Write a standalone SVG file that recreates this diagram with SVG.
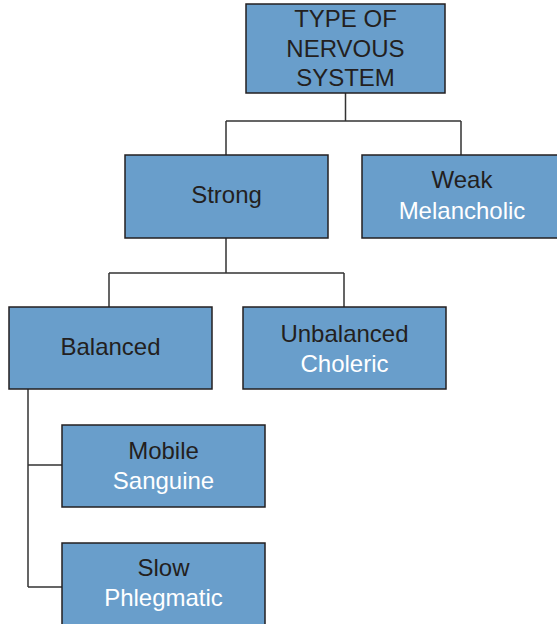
<svg xmlns="http://www.w3.org/2000/svg" width="557" height="624" viewBox="0 0 557 624">
<style>
.box{fill:#699ecb;stroke:#231f20;stroke-width:1.5}
.t{font-family:"Liberation Sans",Arial,sans-serif;font-size:24px;text-anchor:middle}
.d{fill:#231f20}
.w{fill:#ffffff}
.c{fill:none;stroke:#333333;stroke-width:1.5}
</style>
<rect width="557" height="624" fill="#ffffff"/>
<g id="connectors">
<path class="c" d="M345.5 93 V121 M226 121 H461 M226 121 V155 M461 121 V155"/>
<path class="c" d="M226 238 V273 M109 273 H344 M109 273 V307 M344 273 V307"/>
<path class="c" d="M28 389 V587 M28 465 H62 M28 587 H62"/>
</g>
<g id="root">
<rect class="box" x="246" y="4" width="199" height="89"/>
<text class="t d" x="345.5" y="27">TYPE OF</text>
<text class="t d" x="345.5" y="57">NERVOUS</text>
<text class="t d" x="345.5" y="86">SYSTEM</text>
</g>
<g id="strong">
<rect class="box" x="125" y="155" width="203" height="83"/>
<text class="t d" x="226.5" y="203">Strong</text>
</g>
<g id="weak">
<rect class="box" x="362" y="155" width="203" height="83"/>
<text class="t d" x="462" y="188">Weak</text>
<text class="t w" x="462" y="219">Melancholic</text>
</g>
<g id="balanced">
<rect class="box" x="9" y="307" width="203" height="82"/>
<text class="t d" x="110.5" y="355">Balanced</text>
</g>
<g id="unbalanced">
<rect class="box" x="243" y="307" width="203" height="82"/>
<text class="t d" x="344.5" y="342">Unbalanced</text>
<text class="t w" x="344.5" y="372">Choleric</text>
</g>
<g id="mobile">
<rect class="box" x="62" y="425" width="203" height="82"/>
<text class="t d" x="163.5" y="459">Mobile</text>
<text class="t w" x="163.5" y="489">Sanguine</text>
</g>
<g id="slow">
<rect class="box" x="62" y="543" width="203" height="90"/>
<text class="t d" x="163.5" y="576">Slow</text>
<text class="t w" x="163.5" y="606">Phlegmatic</text>
</g>
</svg>
